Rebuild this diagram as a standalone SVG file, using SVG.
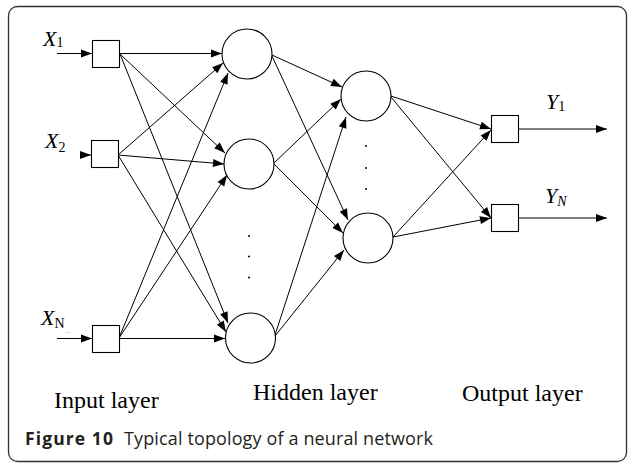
<svg xmlns="http://www.w3.org/2000/svg" width="628" height="463" viewBox="0 0 628 463">
  <style>
    .frame { fill: #ffffff; stroke: #333333; stroke-width: 1.3; }
    .node { fill: #ffffff; stroke: #000000; stroke-width: 1.1; }
    .edge { fill: none; stroke: #000000; stroke-width: 1; marker-end: url(#arrow); }
    .dot { fill: #000000; }
    .var { font-family: "Liberation Serif", "Times New Roman", serif; font-style: italic; font-size: 22px; fill: #000; }
    .sub { font-family: "Liberation Serif", "Times New Roman", serif; font-size: 14px; fill: #000; }
    .layer { font-family: "Liberation Serif", "Times New Roman", serif; font-size: 24px; fill: #000; }
    .cap { font-family: "Open Sans", "Noto Sans", sans-serif; font-size: 18px; fill: #231f20; }
    .capb { font-weight: bold; font-size: 17.5px; }
  </style>
  <defs>
    <marker id="arrow" markerUnits="userSpaceOnUse" markerWidth="11" markerHeight="8" refX="11" refY="4" orient="auto" overflow="visible">
      <path d="M0,0 L11,4 L0,8 Z" fill="#000000"/>
    </marker>
  </defs>

  <!-- outer frame -->
  <rect class="frame" x="8.5" y="6.5" width="618" height="455" rx="9" ry="9"/>

  <!-- connectors -->
  <g id="connectors">
    <!-- external inputs -->
    <line class="edge" x1="57" y1="53.5" x2="92" y2="53.5"/>
    <line class="edge" x1="80" y1="155" x2="91" y2="155"/>
    <line class="edge" x1="57" y1="338.5" x2="92" y2="338.5"/>
    <!-- input layer to first hidden layer -->
    <line class="edge" x1="119" y1="53.5" x2="222" y2="53.5"/>
    <line class="edge" x1="120" y1="54" x2="225" y2="153"/>
    <line class="edge" x1="120" y1="54" x2="228" y2="323"/>
    <line class="edge" x1="118" y1="155" x2="223" y2="63"/>
    <line class="edge" x1="118" y1="155" x2="224" y2="164"/>
    <line class="edge" x1="118" y1="155" x2="226" y2="332"/>
    <line class="edge" x1="119" y1="338" x2="228" y2="73"/>
    <line class="edge" x1="119" y1="338" x2="227" y2="175"/>
    <line class="edge" x1="119" y1="338.5" x2="225" y2="338.5"/>
    <!-- first hidden layer to second hidden layer -->
    <line class="edge" x1="272" y1="55" x2="342" y2="87"/>
    <line class="edge" x1="272" y1="56" x2="348" y2="220"/>
    <line class="edge" x1="274" y1="163" x2="341" y2="99"/>
    <line class="edge" x1="274" y1="164" x2="343" y2="233"/>
    <line class="edge" x1="275" y1="335" x2="346" y2="117"/>
    <line class="edge" x1="275" y1="336" x2="344" y2="250"/>
    <!-- second hidden layer to output layer -->
    <line class="edge" x1="391" y1="96" x2="491" y2="129"/>
    <line class="edge" x1="391" y1="97" x2="491" y2="218"/>
    <line class="edge" x1="393" y1="237" x2="491" y2="130"/>
    <line class="edge" x1="393" y1="237" x2="491" y2="218"/>
    <!-- outputs -->
    <line class="edge" x1="518" y1="129" x2="607" y2="129"/>
    <line class="edge" x1="518" y1="218" x2="607" y2="218"/>
  </g>

  <!-- input layer -->
  <g id="input-1">
    <rect class="node" x="92.5" y="40.5" width="27" height="27"/>
    <text class="var" x="43" y="46">X<tspan class="sub" font-style="normal" dy="1">1</tspan></text>
  </g>
  <g id="input-2">
    <rect class="node" x="91.5" y="140.5" width="27" height="27"/>
    <text class="var" x="45" y="148">X<tspan class="sub" font-style="normal" dy="4">2</tspan></text>
  </g>
  <g id="input-n">
    <rect class="node" x="92.5" y="325.5" width="27" height="27"/>
    <text class="var" x="41" y="325">X<tspan class="sub" font-style="normal" dy="2.5">N</tspan></text>
    <text x="66" y="333" font-family="Liberation Serif, serif" font-size="9" fill="#888888">..</text>
  </g>

  <!-- first hidden layer -->
  <g id="hidden1-1"><circle class="node" cx="247" cy="54" r="25"/></g>
  <g id="hidden1-2"><circle class="node" cx="249" cy="164" r="25"/></g>
  <g id="hidden1-3"><circle class="node" cx="250.5" cy="338" r="25"/></g>
  <g id="hidden1-dots">
    <circle class="dot" cx="249" cy="236" r="1"/>
    <circle class="dot" cx="249" cy="256.5" r="1"/>
    <circle class="dot" cx="249" cy="277.5" r="1"/>
  </g>

  <!-- second hidden layer -->
  <g id="hidden2-1"><circle class="node" cx="366" cy="96" r="25"/></g>
  <g id="hidden2-2"><circle class="node" cx="368" cy="238" r="25"/></g>
  <g id="hidden2-dots">
    <circle class="dot" cx="366" cy="146" r="1"/>
    <circle class="dot" cx="366" cy="168" r="1"/>
    <circle class="dot" cx="366" cy="189" r="1"/>
  </g>

  <!-- output layer -->
  <g id="output-1">
    <rect class="node" x="491.5" y="115.5" width="27" height="27"/>
    <text class="var" x="546" y="109">Y<tspan class="sub" font-style="normal" dy="2">1</tspan></text>
  </g>
  <g id="output-n">
    <rect class="node" x="491.5" y="204.5" width="27" height="27"/>
    <text class="var" x="545" y="203">Y<tspan class="sub" font-style="italic" dy="3">N</tspan></text>
  </g>

  <!-- layer titles -->
  <g id="layer-labels">
    <text class="layer" x="54" y="408">Input layer</text>
    <text class="layer" x="253" y="400">Hidden layer</text>
    <text class="layer" x="462" y="401">Output layer</text>
  </g>

  <!-- caption -->
  <g id="caption">
    <text class="cap capb" x="25" y="445" textLength="88" lengthAdjust="spacing">Figure 10</text>
    <text class="cap" x="124" y="445" textLength="309" lengthAdjust="spacing">Typical topology of a neural network</text>
  </g>
</svg>
